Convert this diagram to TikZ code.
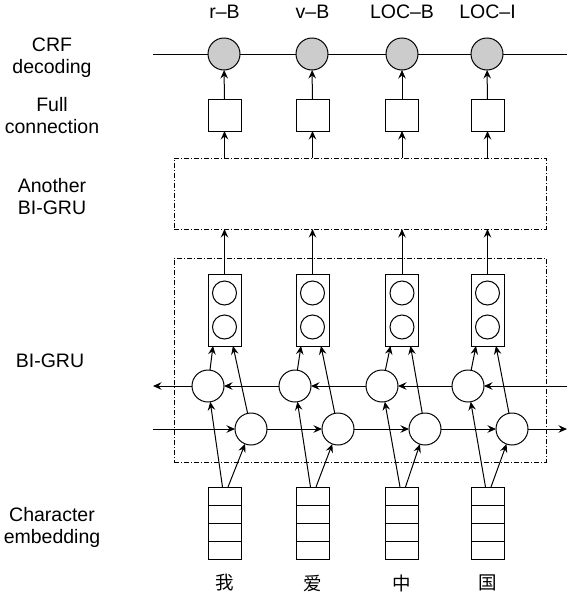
\documentclass[tikz,border=0pt]{standalone}
\usepackage{fontspec}
\setmainfont{Liberation Sans}
\newfontfamily\cjk{Noto Sans CJK SC}
\usetikzlibrary{arrows.meta}
\begin{document}
\begin{tikzpicture}[x=1pt,y=-1pt,line width=1pt,
  every node/.style={inner sep=0pt, outer sep=0pt},
  lbl/.style={font=\fontsize{19.5}{22}\selectfont, align=center, anchor=base},
  toplbl/.style={font=\fontsize{19.5}{22}\selectfont, anchor=base},
  chr/.style={font=\cjk\fontsize{18.5}{22}\selectfont},
  crf/.style={circle, draw, fill=gray!40, minimum size=32pt},
  fcbox/.style={draw, minimum width=33pt, minimum height=32pt},
  gru/.style={circle, draw, minimum size=32pt},
  outbox/.style={draw, minimum width=33pt, minimum height=72pt},
  cell/.style={circle, draw, minimum size=24pt},
  emb/.style={draw, minimum width=33pt, minimum height=72pt},
  arr/.style={-{Stealth[length=8.5pt,width=7.5pt,inset=3pt]}},
  dd/.style={draw, dash pattern=on 5pt off 2pt on 1pt off 2pt},
]
\useasboundingbox (0,0) rectangle (568,592);

% left labels (anchor at baseline of last line)
\node[lbl] (lcrf) at (52,73) {CRF\\decoding};
\node[lbl] (lfc) at (52,133) {Full\\connection};
\node[lbl] (lag) at (52,214) {Another\\BI-GRU};
\node[lbl] (lbg) at (50,367) {BI-GRU};
\node[lbl] (lemb) at (52,543) {Character\\embedding};

% dash-dot boxes
\node[dd, minimum width=372pt, minimum height=71pt] (ag) at (360,193.5) {};
\node[dd, minimum width=372pt, minimum height=204pt] (bg) at (360,360) {};

% end coordinates of horizontal lines
\coordinate (cL) at (153,54);
\coordinate (cR) at (567,54);
\coordinate (bL) at (153,386);
\coordinate (bR) at (567,386);
\coordinate (fL) at (153,429);
\coordinate (fR) at (567,429);

\foreach \i/\cx/\bx/\fx/\lab/\ch in {1/224.5/208/251/r--B/我, 2/312.5/295/338/v--B/爱, 3/402/382/425/LOC--B/中, 4/487.5/468/512/LOC--I/国}{
  \node[toplbl] (t\i) at (\cx,18) {\lab};
  \node[fcbox] (fc\i) at (\cx,115) {};
  \node[outbox] (out\i) at (\cx,310) {};
  \node[cell] (oa\i) at (\cx,293) {};
  \node[cell] (ob\i) at (\cx,327) {};
  \node[gru] (b\i) at (\bx,386) {};
  \node[gru] (f\i) at (\fx,429) {};
  \node[emb] (emb\i) at (\cx,523) {};
  \draw (\cx-16.5,505) -- (\cx+16.5,505);
  \draw (\cx-16.5,523) -- (\cx+16.5,523);
  \draw (\cx-16.5,541) -- (\cx+16.5,541);
  \node[chr] (ch\i) at (\cx,583) {\ch};
}

% CRF chain (line behind circles)
\draw (cL) -- (cR);
\foreach \i/\cx in {1/224,2/312,3/402,4/487}{
  \node[crf] (crf\i) at (\cx,54) {};
}

\foreach \i in {1,2,3,4}{
  \draw[arr] (fc\i) -- (crf\i);
  \draw[arr] (ag.north -| fc\i) -- (fc\i);
  \draw[arr] (out\i) -- (ag.south -| out\i);
  \draw[arr] (b\i) -- ([xshift=5pt]out\i.south west);
  \draw[arr] (f\i) -- ([xshift=-8pt]out\i.south east);
  \draw[arr] ([xshift=-2pt]emb\i.north) -- (b\i);
  \draw[arr] ([xshift=3.5pt]emb\i.north) -- (f\i);
}

% backward chain
\draw[arr] (bR) -- (b4);
\draw[arr] (b4) -- (b3);
\draw[arr] (b3) -- (b2);
\draw[arr] (b2) -- (b1);
\draw[arr] (b1) -- (bL);
% forward chain
\draw[arr] (fL) -- (f1);
\draw[arr] (f1) -- (f2);
\draw[arr] (f2) -- (f3);
\draw[arr] (f3) -- (f4);
\draw[arr] (f4) -- (fR);
\end{tikzpicture}
\end{document}
